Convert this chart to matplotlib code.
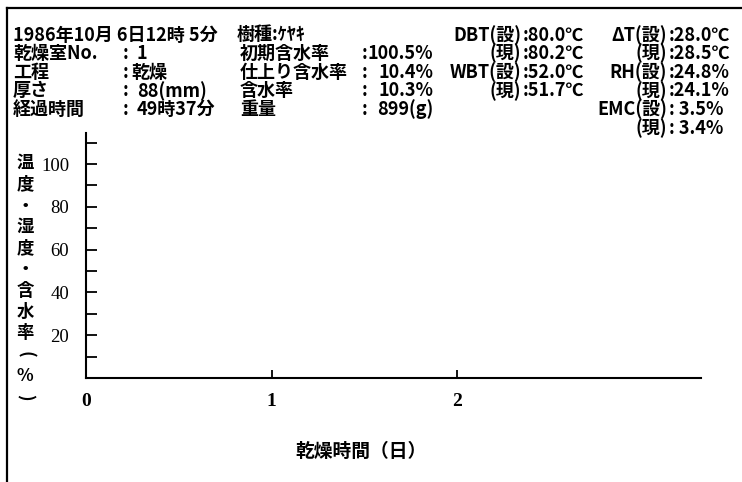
import matplotlib
matplotlib.use("Agg")
import matplotlib.pyplot as plt
from matplotlib.lines import Line2D

# ---------------- data ----------------
x_ticks = [0, 1, 2]
x_tick_labels = ["0", "1", "2"]
y_major = [20, 40, 60, 80, 100]
y_minor = [10, 30, 50, 70, 90, 110]
x_label = "乾燥時間（日）"
y_label_chars = ["温", "度", "・", "湿", "度", "・", "含", "水", "率", "(", "%", ")"]

header_date = "1986年10月 6日12時 5分"
header_species = "樹種:ｹﾔｷ"
left_labels = ["乾燥室No.", "工程", "厚さ", "経過時間"]
left_values = ["1", "乾燥", "88(mm)", "49時37分"]
mid_labels = ["初期含水率", "仕上り含水率", "含水率", "重量"]
mid_values = ["100.5%", "10.4%", "10.3%", "899(g)"]
r1_labels = ["DBT(設)", "(現)", "WBT(設)", "(現)"]
r1_values = [":80.0℃", ":80.2℃", ":52.0℃", ":51.7℃"]
r2_labels = ["ΔT(設)", "(現)", "RH(設)", "(現)", "EMC(設)", "(現)"]
r2_values = [":28.0℃", ":28.5℃", ":24.8%", ":24.1%", ": 3.5%", ": 3.4%"]

# ---------------- figure ----------------
W, H = 742, 482
fig = plt.figure(figsize=(W / 100, H / 100), dpi=100)
JP = ["Noto Sans CJK JP", "DejaVu Sans"]
SERIF = ["Liberation Serif", "DejaVu Serif"]
FS = 13


def P(x, y):
    return x / W, 1 - y / H


def t(x, y, s, ha="left", size=FS, **kw):
    fig.text(*P(x, y), s, ha=ha, va="center", fontsize=size,
             family=JP, fontweight="bold", **kw)


# frame lines (scanned printout border)
fig.add_artist(Line2D([7 / W, 1.0], [1 - 8 / H, 1 - 8 / H], color="black", lw=1.6,
                      transform=fig.transFigure))
fig.add_artist(Line2D([7 / W, 7 / W], [1 - 8 / H, 0], color="black", lw=1.6,
                      transform=fig.transFigure))

# header block
row_y = [35 + 18.6 * i for i in range(6)]
t(13, row_y[0], header_date)
t(237, row_y[0], header_species)
for i in range(4):
    y = row_y[i + 1]
    t(13, y, left_labels[i])
    t(126, y, ":", ha="center")
    t(131 if i == 1 else 137, y, left_values[i])
    t(240, y, mid_labels[i])
    t(365, y, ":", ha="center")
    t(433, y, mid_values[i], ha="right")

for i in range(4):
    t(521, row_y[i], r1_labels[i], ha="right")
    t(523, row_y[i], r1_values[i])
for i in range(6):
    t(667, row_y[i], r2_labels[i], ha="right")
    t(669, row_y[i], r2_values[i])

# ---------------- axes ----------------
ax_l, ax_r, ax_b, ax_t = 86, 701, 378, 133
ax = fig.add_axes([ax_l / W, 1 - ax_b / H, (ax_r - ax_l) / W, (ax_b - ax_t) / H])
ax.set_xlim(0, 3.315)
ax.set_ylim(0, 114.5)
for s in ["top", "right"]:
    ax.spines[s].set_visible(False)
for s in ["left", "bottom"]:
    ax.spines[s].set_linewidth(1.5)

ax.set_xticks(x_ticks)
ax.set_xticklabels(x_tick_labels, family=SERIF, fontweight="bold", fontsize=14)
ax.tick_params(axis="x", direction="in", length=6, width=1.3, pad=11)
ax.set_yticks(y_major)
ax.set_yticklabels([str(v) for v in y_major], family=SERIF, fontsize=13.5)
ax.set_yticks(y_minor, minor=True)
ax.tick_params(axis="y", which="both", direction="in", length=8, width=1.3, pad=12)

ax.set_xlabel(x_label, family=JP, fontweight="bold", fontsize=13.5)
ax.xaxis.set_label_coords((361 - ax_l) / (ax_r - ax_l), (ax_b - 442) / (ax_b - ax_t))

# vertical y label (parentheses turned for vertical writing)
for i, ch in enumerate(y_label_chars):
    rot = -90 if ch in "()" else 0
    fig.text(*P(25, 163 + 21.3 * i), ch, ha="center", va="center", rotation=rot,
             rotation_mode="anchor", fontsize=12.5, family=JP, fontweight="bold")

fig.savefig("out.png", dpi=100, facecolor="white")
